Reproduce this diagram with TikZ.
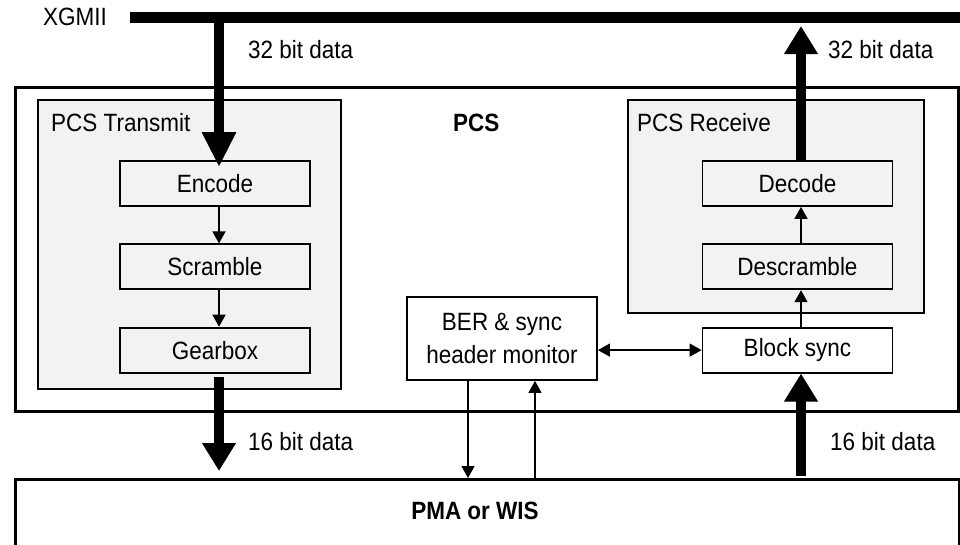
\documentclass[tikz,border=0pt]{standalone}
\usepackage{fontspec}
\setmainfont[FakeStretch=0.9]{Liberation Sans}
\usetikzlibrary{arrows.meta}
\usetikzlibrary{positioning}

\tikzset{
  blockbox/.style={draw, line width=1.8pt, fill=gray!10, minimum width=190pt,
    minimum height=45pt, inner sep=0pt},
  groupbox/.style={draw, line width=1.8pt, fill=gray!10, anchor=north west, inner sep=0pt},
  framebox/.style={draw, line width=3pt, anchor=north west, inner sep=0pt},
  datalabel/.style={anchor=west, inner sep=0pt},
  flowarrow/.style={line width=1.5pt, -{Triangle[length=12pt,width=13pt]}},
  busarrow/.style={line width=10pt, -{Triangle[length=28pt,width=32pt]}},
}

\begin{document}
\begin{tikzpicture}[x=1pt, y=-1pt, node distance=36.5pt,
    every node/.style={font=\fontsize{25}{29}\selectfont}]
  \useasboundingbox (0,0) rectangle (960,544);

  % frames
  \node[framebox, minimum width=943pt, minimum height=324pt] (pcs) at (14,86) {};
  \node[groupbox, minimum width=303pt, minimum height=289pt] (tx) at (37,99) {};
  \node[groupbox, minimum width=296pt, minimum height=213pt] (rx) at (627,99) {};
  \node[framebox, minimum width=944pt, minimum height=90pt] (pma) at (14,478) {};

  % transmit path
  \node[blockbox] (encode) at (215,183.5) {Encode};
  \node[blockbox, below=of encode] (scramble) {Scramble};
  \node[blockbox, below=of scramble] (gearbox) {Gearbox};

  % receive path
  \node[blockbox] (decode) at (797.5,183.5) {Decode};
  \node[blockbox, below=of decode] (descramble) {Descramble};
  \node[blockbox, fill=white, below=of descramble] (blocksync) {Block sync};

  \node[draw, line width=1.8pt, fill=white, minimum width=190pt, minimum height=83pt,
    inner sep=0pt, align=center, font=\fontsize{25}{33}\selectfont] (ber) at (502,338.5)
    {BER \& sync\\header monitor};

  % labels
  \node[datalabel] (xgmii) at (43,17) {XGMII};
  \node[datalabel] (txin) at (248,50) {32 bit data};
  \node[datalabel] (rxout) at (828,50) {32 bit data};
  \node[datalabel, font=\fontsize{25}{29}\selectfont\bfseries] (pcslabel) at (453,123) {PCS};
  \node[datalabel] (txlabel) at (51,123) {PCS Transmit};
  \node[datalabel] (rxlabel) at (637,123) {PCS Receive};
  \node[datalabel] (txdown) at (248,442) {16 bit data};
  \node[datalabel] (rxup) at (830,442) {16 bit data};
  \node[font=\fontsize{25}{29}\selectfont\bfseries] (pmalabel) at (475,511) {PMA or WIS};

  % XGMII bus
  \coordinate (busL) at (130,17);
  \coordinate (busR) at (960,17);
  \draw[line width=11pt] (busL) -- (busR);

  % wide data paths
  \draw[busarrow, -{Triangle[length=35pt,width=32pt]}, shorten >=-7pt]
    ([xshift=4pt]encode.north |- busL) -- ([xshift=4pt]encode.north);
  \draw[busarrow, shorten >=9pt] ([xshift=3.5pt]decode.north) -- ([xshift=3.5pt]decode.north |- busL);
  \draw[busarrow, shorten <=3pt, shorten >=7pt]
    ([xshift=4pt]gearbox.south) -- ([xshift=4pt]gearbox.south |- pma.north);
  \draw[busarrow, shorten <=2pt]
    ([xshift=3.5pt]blocksync.south |- pma.north) -- ([xshift=3.5pt]blocksync.south);

  % internal flow
  \draw[flowarrow] ([xshift=4pt]encode.south) -- ([xshift=4pt]scramble.north);
  \draw[flowarrow] ([xshift=4pt]scramble.south) -- ([xshift=4pt]gearbox.north);
  \draw[flowarrow] ([xshift=3.5pt]blocksync.north) -- ([xshift=3.5pt]descramble.south);
  \draw[flowarrow] ([xshift=3.5pt]descramble.north) -- ([xshift=3.5pt]decode.south);
  \draw[flowarrow, {Triangle[length=12pt,width=13pt]}-{Triangle[length=12pt,width=13pt]}]
    (ber.east |- blocksync.west) -- (blocksync.west);
  \draw[flowarrow] ([xshift=-34pt]ber.south) -- ([xshift=-34pt]ber.south |- pma.north);
  \draw[flowarrow] ([xshift=33pt]ber.south |- pma.north) -- ([xshift=33pt]ber.south);
\end{tikzpicture}
\end{document}
